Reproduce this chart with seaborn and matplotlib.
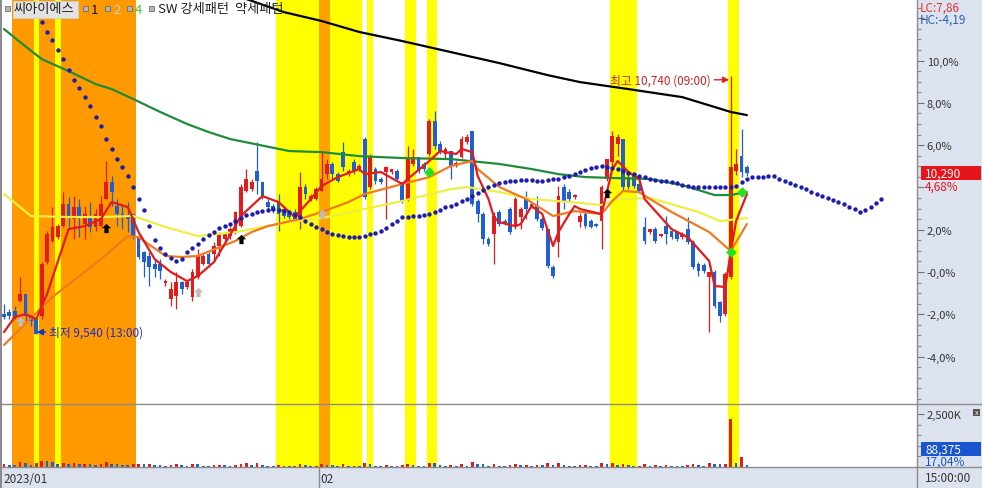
import numpy as np
import matplotlib
matplotlib.use("Agg")
import matplotlib.pyplot as plt
from matplotlib.path import Path
from matplotlib.patches import Rectangle
from matplotlib.lines import Line2D
import seaborn as sns

# ---- candles, % change vs. previous close ----
opens = [-1.99, -1.89, -1.84, -1.37, -1.04, -2.13, -2.22, -2.08, 0.47, 1.47,
         1.65, 2.17, 3.22, 2.51, 3.07, 2.27, 2.65, 2.13, 2.17, 3.45,
         4.26, 3.12, 2.74, 2.65, 2.74, 1.65, 0.95, 0.76, 0.38, 0.38,
         -0.52, -1.28, -1.13, -0.47, -0.71, -1.18, -0.24, 0.38, 0.85, 0.85,
         1.23, 1.56, 1.70, 1.89, 2.17, 3.83, 3.92, 4.78, 4.26, 3.31,
         3.12, 3.31, 2.98, 2.79, 2.84, 2.51, 4.02, 3.45, 3.45, 3.83,
         4.63, 5.11, 4.63, 5.67, 4.68, 5.20, 4.87, 6.29, 4.02, 4.87,
         4.40, 4.73, 4.73, 4.78, 4.26, 3.45, 5.11, 5.44, 5.11, 5.58,
         7.14, 6.05, 5.58, 5.72, 5.01, 5.44, 6.15, 6.67, 3.36, 2.74,
         1.56, 1.80, 2.84, 2.41, 2.98, 2.13, 2.60, 3.45, 3.12, 3.12,
         2.51, 2.03, 0.24, 1.42, 4.02, 3.78, 3.55, 2.36, 2.74, 2.41,
         2.27, 2.41, 4.40, 5.20, 6.05, 6.29, 4.49, 4.54, 4.16, 2.13,
         1.89, 2.03, 1.70, 2.17, 1.94, 1.89, 1.65, 2.03, 1.42, 0.38,
         0.33, -0.24, 0.00, -1.42, -1.99, -0.24, 4.78, 5.48, 4.96]
highs = [-1.51, -1.75, -1.61, -0.24, -1.04, -2.08, -2.13, 0.47, 1.94, 3.07,
         2.27, 3.78, 3.55, 3.59, 3.45, 3.12, 3.31, 2.98, 3.59, 5.25,
         4.54, 3.45, 3.22, 3.31, 2.74, 1.70, 0.99, 0.95, 0.61, 0.61,
         -0.33, -0.47, 0.00, -0.43, -0.38, 0.14, 1.09, 0.85, 0.95, 1.42,
         1.89, 1.89, 2.13, 2.88, 4.16, 4.87, 4.40, 6.15, 4.26, 3.45,
         3.22, 3.69, 3.12, 2.88, 2.98, 4.73, 4.16, 3.69, 4.02, 5.67,
         5.34, 5.20, 4.73, 6.15, 4.87, 5.34, 5.11, 6.38, 5.58, 4.96,
         4.49, 5.01, 4.87, 4.87, 4.26, 5.96, 5.82, 5.44, 5.20, 7.23,
         7.61, 6.19, 5.91, 5.72, 5.25, 6.43, 6.52, 6.67, 3.45, 2.84,
         1.65, 2.84, 2.93, 2.51, 3.07, 3.55, 3.07, 3.83, 3.22, 3.59,
         2.60, 2.03, 0.33, 4.07, 4.16, 3.92, 3.69, 2.79, 2.84, 2.51,
         2.32, 4.11, 5.34, 6.67, 6.52, 6.29, 4.78, 4.63, 4.26, 2.60,
         2.03, 2.13, 1.84, 2.65, 2.03, 1.94, 1.89, 2.60, 1.51, 0.47,
         0.43, 0.00, 0.09, -1.37, 0.00, 9.27, 5.82, 6.76, 5.06]
lows = [-2.22, -2.22, -2.22, -1.42, -2.32, -2.55, -2.95, -2.22, 0.38, 1.42,
        1.56, 2.13, 2.13, 1.56, 1.65, 1.56, 1.89, 1.94, 2.13, 3.45,
        3.12, 2.17, 2.03, 1.89, 1.56, 0.61, -0.24, -0.66, -0.24, -0.33,
        -0.66, -1.61, -1.75, -1.04, -0.80, -1.37, -0.33, 0.33, 0.24, 0.47,
        0.76, 1.42, 1.56, 1.80, 2.13, 3.78, 3.83, 3.69, 3.45, 2.98,
        2.79, 1.94, 2.55, 2.51, 2.41, 2.03, 3.45, 3.36, 3.40, 3.83,
        4.40, 4.40, 4.26, 4.78, 4.54, 4.63, 4.78, 3.45, 3.92, 4.16,
        4.16, 2.51, 4.63, 4.30, 3.26, 3.36, 5.01, 4.68, 4.78, 5.48,
        5.82, 5.58, 5.34, 4.40, 4.96, 5.39, 6.05, 3.12, 2.36, 1.32,
        1.23, 0.38, 2.17, 2.22, 1.80, 2.03, 2.03, 2.51, 3.03, 2.41,
        1.99, 0.19, -0.28, 0.71, 2.98, 3.36, 3.45, 2.13, 2.08, 2.08,
        2.13, 1.09, 4.30, 5.01, 5.48, 3.83, 3.92, 3.97, 3.74, 1.32,
        1.80, 1.37, 1.65, 1.32, 1.56, 1.47, 1.56, 1.32, 0.14, -0.19,
        -0.05, -2.84, -1.70, -2.36, -2.08, -0.33, 4.59, 4.49, 4.54]
closes = [-2.13, -2.08, -2.13, -1.04, -2.08, -2.32, -2.93, 0.38, 1.80, 2.13,
          2.17, 3.22, 2.65, 3.07, 2.65, 2.74, 2.13, 2.74, 3.22, 4.26,
          3.78, 2.74, 2.65, 2.51, 1.70, 0.71, 0.47, 0.24, 0.14, 0.05,
          -0.43, -0.80, -0.47, -0.80, -0.47, 0.00, 0.76, 0.76, 0.38, 1.23,
          1.80, 1.80, 2.03, 2.84, 4.02, 4.40, 4.26, 4.30, 3.59, 3.07,
          2.88, 2.74, 2.65, 2.60, 2.51, 4.02, 3.69, 3.59, 3.92, 4.40,
          5.11, 4.63, 4.30, 4.96, 4.78, 4.78, 5.01, 3.55, 5.44, 4.30,
          4.26, 4.96, 4.87, 4.40, 3.36, 5.34, 5.44, 4.78, 4.87, 7.14,
          5.96, 5.72, 5.82, 5.01, 5.15, 6.29, 6.38, 3.22, 2.74, 1.56,
          1.32, 2.65, 2.27, 2.27, 1.89, 3.45, 2.98, 2.98, 3.22, 2.51,
          2.08, 0.28, -0.19, 3.59, 3.36, 3.45, 3.64, 2.65, 2.17, 2.13,
          2.17, 4.02, 5.34, 6.43, 6.38, 4.02, 4.02, 4.07, 3.83, 1.47,
          2.03, 1.47, 1.80, 1.80, 1.65, 1.56, 1.80, 1.42, 0.24, 0.05,
          0.05, 0.00, -1.61, -2.08, -0.09, 4.96, 5.11, 4.73, 4.68]
# volume, thousand shares
volumes = [120, 90, 80, 250, 200, 100, 180, 300, 260, 220,
           150, 200, 150, 180, 120, 140, 130, 110, 150, 220,
           160, 120, 100, 90, 130, 160, 140, 150, 100, 90,
           70, 110, 130, 80, 60, 140, 120, 70, 60, 80,
           90, 80, 70, 100, 150, 170, 80, 180, 110, 70,
           60, 90, 60, 50, 60, 160, 80, 50, 70, 150,
           110, 90, 70, 140, 50, 60, 50, 180, 130, 70,
           60, 100, 50, 60, 110, 160, 80, 70, 60, 210,
           170, 80, 60, 110, 50, 140, 60, 230, 150, 130,
           70, 160, 70, 50, 110, 120, 80, 90, 50, 100,
           80, 180, 90, 200, 110, 60, 50, 80, 90, 60,
           50, 170, 150, 190, 80, 160, 80, 60, 60, 150,
           50, 90, 50, 100, 70, 60, 50, 100, 140, 80,
           60, 180, 150, 120, 160, 2250, 200, 470, 88]

# moving averages (knots)
ma5_idx = [0, 2, 4, 6, 8, 12, 15, 18, 20, 23, 25, 28, 31, 34, 36, 39, 42, 44, 48, 51,
           54, 57, 59, 62, 66, 67, 70, 74, 75, 79, 81, 84, 85, 87, 88, 90, 91, 92, 95, 96,
           98, 100, 102, 103, 105, 106, 107, 111, 112, 113, 114, 116, 118, 119, 122, 124,
           127, 129, 131, 132, 134, 135, 136, 138]
ma5 = [-2.84, -2.13, -1.99, -2.22, -1.04, 2.03, 2.17, 2.51, 3.31, 3.07, 1.89, 0.61, 0.00,
       -0.43, -0.19, 0.47, 1.75, 2.65, 3.59, 3.31, 2.60, 3.45, 4.07, 4.49, 4.87, 4.63, 4.73,
       4.16, 4.40, 5.25, 5.72, 5.58, 5.82, 5.67, 4.54, 3.45, 2.60, 2.36, 2.17, 2.27, 3.12,
       2.74, 1.23, 1.89, 2.74, 3.12, 2.98, 2.74, 3.78, 4.87, 5.25, 4.73, 4.40, 3.45, 2.60,
       2.03, 1.65, 1.09, 0.52, -0.66, -0.71, 0.95, 2.41, 3.69]
ma10_idx = [0, 9, 18, 23, 25, 30, 33, 36, 43, 46, 49, 55, 59, 64, 67, 74, 79, 83, 87, 88,
            92, 97, 102, 106, 111, 113, 115, 118, 120, 124, 131, 135, 138]
ma10 = [-3.45, -1.18, 0.61, 1.70, 1.65, 0.76, 0.71, 0.76, 1.47, 1.89, 2.17, 2.51, 2.84,
        3.31, 3.69, 4.16, 4.49, 5.01, 5.25, 4.87, 4.02, 3.45, 2.65, 2.88, 2.74, 3.36, 3.83,
        3.78, 3.45, 2.84, 1.89, 0.99, 2.27]
ma20_idx = [0, 5, 12, 18, 24, 30, 36, 43, 53, 59, 67, 74, 83, 86, 92, 98, 105, 111, 114,
            120, 129, 133, 138]
ma20 = [3.69, 2.65, 2.60, 2.60, 2.65, 2.13, 1.70, 1.89, 2.36, 2.55, 2.98, 3.36, 3.92, 4.02,
        3.78, 3.45, 3.31, 3.17, 3.45, 3.50, 2.84, 2.41, 2.55]
ma60_idx = [0, 3, 7, 12, 17, 20, 24, 29, 34, 38, 42, 53, 59, 66, 74, 83, 92, 98, 103, 108,
            114, 120, 126, 132, 135, 138]
ma60 = [11.49, 10.87, 10.07, 9.50, 8.89, 8.65, 8.18, 7.57, 7.00, 6.62, 6.29, 5.72, 5.67,
        5.48, 5.39, 5.34, 5.11, 4.87, 4.63, 4.49, 4.44, 4.40, 4.11, 3.64, 3.64, 3.78]
ma120_idx = [44, 52, 59, 66, 74, 83, 92, 101, 107, 116, 126, 135, 138]
ma120 = [13.0, 12.29, 11.87, 11.35, 10.92, 10.40, 9.88, 9.31, 8.98, 8.65, 8.27, 7.57, 7.42]

# leading span dots, one per bar starting at bar 7 (runs 26 bars past the last candle)
span_start = 7
span = [11.82, 11.35, 10.97, 10.50, 10.07, 9.55, 9.08, 8.70, 8.27, 7.85,
        7.33, 6.90, 6.29, 5.82, 5.34, 4.96, 4.54, 4.02, 3.45, 2.93,
        2.17, 1.51, 1.13, 0.85, 0.66, 0.52, 0.61, 0.95, 1.13, 1.32,
        1.56, 1.75, 1.89, 2.08, 2.17, 2.27, 2.41, 2.55, 2.70, 2.74,
        2.84, 2.88, 2.93, 2.98, 2.93, 2.88, 2.84, 2.70, 2.60, 2.41,
        2.27, 2.13, 2.03, 1.89, 1.80, 1.75, 1.70, 1.65, 1.65, 1.65,
        1.70, 1.80, 1.84, 1.94, 2.08, 2.27, 2.41, 2.60, 2.60, 2.65,
        2.65, 2.70, 2.74, 2.84, 2.93, 3.07, 3.12, 3.22, 3.36, 3.45,
        3.59, 3.74, 3.88, 4.02, 4.11, 4.21, 4.26, 4.30, 4.30, 4.35,
        4.35, 4.35, 4.30, 4.30, 4.35, 4.40, 4.40, 4.49, 4.54, 4.63,
        4.73, 4.82, 4.92, 4.96, 5.01, 4.96, 4.92, 4.87, 4.78, 4.68,
        4.63, 4.54, 4.49, 4.40, 4.35, 4.30, 4.30, 4.26, 4.21, 4.11,
        4.07, 4.02, 4.02, 4.02, 4.02, 4.02, 4.02, 4.02, 4.02, 4.07,
        4.26, 4.40, 4.49, 4.49, 4.49, 4.54, 4.54, 4.40, 4.30, 4.21,
        4.11, 4.02, 3.92, 3.78, 3.69, 3.59, 3.50, 3.40, 3.31, 3.22,
        3.07, 2.98, 2.84, 2.93, 3.07, 3.26, 3.45]

# signal markers
black_idx, black_val = [19, 44, 112], [2.08, 1.56, 3.74]
gray_idx, gray_val = [3, 36, 59], [-2.32, -0.95, 2.74]
green_idx, green_val = [79, 135, 137], [4.73, 0.95, 3.78]

# pattern highlight bands (first bar, last bar, colour)
band_start = [2, 59, 6, 10, 51, 61, 68, 75, 79, 113, 135]
band_end = [24, 60, 6, 10, 58, 66, 68, 76, 80, 117, 136]
band_color = ["#ff9900", "#ffa200", "#ffff00", "#ffff00", "#ffff00", "#ffff00",
              "#ffff00", "#ffff00", "#ffff00", "#ffff00", "#ffff00"]

y_ticks = [-4, -2, 0, 2, 4, 6, 8, 10, 12]
y_labels = ["-4,0%", "-2,0%", "-0,0%", "2,0%", "", "6,0%", "8,0%", "10,0%", ""]
feb_start = 58.5

sns.set_style("white")
plt.rcParams["font.family"] = ["Noto Sans CJK KR", "DejaVu Sans"]
plt.rcParams["axes.unicode_minus"] = False

W, H = 982, 489
RED = "#e31b1b"
BLUE = "#1f5fd2"
PANEL = "#dce3ee"
EDGE = "#8c8c8c"

fig = plt.figure(figsize=(W / 100, H / 100), dpi=100, facecolor=PANEL)


def box(x0, y0, x1, y1):
    return [x0 / W, 1 - y1 / H, (x1 - x0) / W, (y1 - y0) / H]


def fx(x):
    return x / W


def fy(y):
    return 1 - y / H


ax = fig.add_axes(box(2, 0, 917, 405), facecolor="white")
axv = fig.add_axes(box(2, 405, 917, 468), facecolor="white", sharex=ax)
axd = fig.add_axes(box(2, 468, 917, 489), facecolor=PANEL, sharex=ax)

for a in (ax, axv):
    for s, e, c in zip(band_start, band_end, band_color):
        a.axvspan(s - 0.5, e + 0.5, color=c, lw=0, zorder=0)

o = np.array(opens)
h = np.array(highs)
l = np.array(lows)
c = np.array(closes)
idx = np.arange(len(c))
col = np.where(c >= o, RED, BLUE)
ax.vlines(idx, l, h, colors=col, lw=0.9, zorder=2)
ax.bar(idx, np.maximum(np.abs(c - o), 0.07), bottom=np.minimum(o, c), width=0.7,
       color=col, lw=0, zorder=2)

sns.lineplot(x=ma120_idx, y=ma120, ax=ax, color="black", lw=1.6, zorder=3)
sns.lineplot(x=ma60_idx, y=ma60, ax=ax, color="#1e8c3a", lw=1.6, zorder=3)
sns.lineplot(x=ma20_idx, y=ma20, ax=ax, color="#eeee44", lw=1.6, zorder=3)
sns.lineplot(x=ma10_idx, y=ma10, ax=ax, color="#f07a22", lw=1.6, zorder=3)
sns.lineplot(x=ma5_idx, y=ma5, ax=ax, color=RED, lw=1.6, zorder=3)

span_idx = np.arange(span_start, span_start + len(span))
sns.scatterplot(x=span_idx, y=span, ax=ax, color="#1c1cb0", s=10, linewidth=0, zorder=4)

house = Path([(0, 1), (-1, 0.05), (-0.45, 0.05), (-0.45, -1), (0.45, -1), (0.45, 0.05),
              (1, 0.05), (0, 1)], closed=True)
ax.scatter(black_idx, black_val, marker=house, s=45, color="black", zorder=5, lw=0)
ax.scatter(gray_idx, gray_val, marker=house, s=45, color="#bdbdbd", zorder=5, lw=0)
ax.scatter(green_idx, green_val, marker="D", s=30, color="#22e022", zorder=5, lw=0)

# high / low annotations
hi = int(np.argmax(h))
lo = int(np.argmin(l))
ax.annotate("최고 10,740 (09:00)", xy=(hi - 0.3, h[hi] - 0.18), xytext=(-18, 0),
            textcoords="offset pixels", ha="right", va="center", fontsize=8.5,
            color="#cc2222",
            arrowprops=dict(arrowstyle="-|>", color="#e02020", lw=1, mutation_scale=9,
                            shrinkA=0, shrinkB=0))
ax.annotate("최저 9,540 (13:00)", xy=(lo + 0.1, l[lo] + 0.11), xytext=(12, 0),
            textcoords="offset pixels", ha="left", va="center", fontsize=8.5,
            color="#1a2ec8",
            arrowprops=dict(arrowstyle="-|>", color="#1a2ec8", lw=1, mutation_scale=9,
                            shrinkA=0, shrinkB=0))

ax.set_xlim(-0.37, 169.6)
ax.set_ylim(-6.24, 12.91)
ax.yaxis.tick_right()
ax.set_yticks(y_ticks)
ax.set_yticklabels(y_labels)
ax.set_yticks(np.arange(-6, 13, 0.5), minor=True)
ax.tick_params(axis="y", which="major", right=True, length=5, width=0.8, color="#707070",
               labelsize=8, labelcolor="#333333", pad=2)
ax.tick_params(axis="y", which="minor", right=True, length=3, width=0.8, color="#8a8a8a")
ax.tick_params(axis="x", bottom=False, labelbottom=False)

# volume panel
v = np.array(volumes)
vcol = np.where(np.r_[True, v[1:] >= v[:-1]], RED, BLUE)
axv.bar(idx, v, width=0.5, color=vcol, lw=0, zorder=2)
axv.set_ylim(0, 2970)
axv.yaxis.tick_right()
axv.set_yticks([2500])
axv.set_yticklabels(["2,500K"])
axv.set_yticks([500, 1000, 1500, 2000], minor=True)
axv.tick_params(axis="y", which="major", right=True, length=5, width=0.8, color="#707070",
                labelsize=8, labelcolor="#333333", pad=2)
axv.tick_params(axis="y", which="minor", right=True, length=3, width=0.8, color="#8a8a8a")
axv.tick_params(axis="x", bottom=False, labelbottom=False)

# date strip
axd.set_ylim(0, 1)
axd.axvline(feb_start, color=EDGE, lw=1)
axd.text(-0.1, 0.45, "2023/01", fontsize=8.5, color="#333333", va="center", ha="left")
axd.text(feb_start + 0.3, 0.45, "02", fontsize=8.5, color="#333333", va="center", ha="left")
axd.set_yticks([])
axd.tick_params(axis="x", bottom=False, labelbottom=False)

for a in (ax, axv, axd):
    for side in ("top", "left", "bottom"):
        a.spines[side].set_visible(False)
    a.spines["right"].set_color(EDGE)
    a.spines["right"].set_linewidth(1)

# frame lines
fig.add_artist(Line2D([0, 1], [fy(405), fy(405)], transform=fig.transFigure, color=EDGE, lw=1))
fig.add_artist(Line2D([0, 1], [fy(468), fy(468)], transform=fig.transFigure, color=EDGE, lw=1))
fig.add_artist(Line2D([fx(1), fx(1)], [0, 1], transform=fig.transFigure, color=EDGE, lw=1.5))

# header legend
for x in [5, 83, 105, 127, 149]:
    fig.add_artist(Rectangle((fx(x), fy(12)), 5 / W, 5 / H, transform=fig.transFigure,
                             fc="#b4b4b4", ec="#707070", lw=0.6))
fig.add_artist(Rectangle((fx(13), fy(19)), 65 / W, 17 / H, transform=fig.transFigure,
                         fc="#e2e2e2", ec="#cfcfcf", lw=0.6))
fig.text(fx(14), fy(10), "씨아이에스", fontsize=9.5, color="#222222", va="center", ha="left")
fig.text(fx(91), fy(10), "1", fontsize=9.5, color="#111111", va="center", ha="left")
fig.text(fx(113), fy(10), "2", fontsize=9.5, color="#cccccc", va="center", ha="left")
fig.text(fx(135), fy(10), "4", fontsize=9.5, color="#3cc83c", va="center", ha="left")
fig.text(fx(158), fy(10), "SW 강세패턴  약세패턴", fontsize=9.5, color="#222222",
         va="center", ha="left")

# right side labels
fig.text(fx(920), fy(8), "LC:7,86", fontsize=8.5, color="#e03434", va="center", ha="left")
fig.text(fx(920), fy(20), "HC:-4,19", fontsize=8.5, color="#2a60b8", va="center", ha="left")
fig.add_artist(Rectangle((fx(921), fy(181)), 60 / W, 14 / H, transform=fig.transFigure,
                         fc="#e8141c", lw=0))
fig.text(fx(925), fy(174), "10,290", fontsize=8.5, color="white", va="center", ha="left")
fig.text(fx(925), fy(187), "4,68%", fontsize=8.5, color="#e8141c", va="center", ha="left")
fig.add_artist(Rectangle((fx(921), fy(457)), 60 / W, 14 / H, transform=fig.transFigure,
                         fc="#1a55d0", lw=0))
fig.text(fx(925), fy(450), "88,375", fontsize=8.5, color="white", va="center", ha="left")
fig.text(fx(925), fy(462), "17,04%", fontsize=8.5, color="#1a55d0", va="center", ha="left")
fig.add_artist(Rectangle((fx(973), fy(417)), 7 / W, 7 / H, transform=fig.transFigure,
                         fc="#555555", lw=0))
fig.text(fx(976.5), fy(413.5), "x", fontsize=5, color="white", va="center", ha="center")
fig.text(fx(925), fy(479), "15:00:00", fontsize=8.5, color="#333333", va="center", ha="left")

fig.savefig("out.png", dpi=100, facecolor=PANEL)
